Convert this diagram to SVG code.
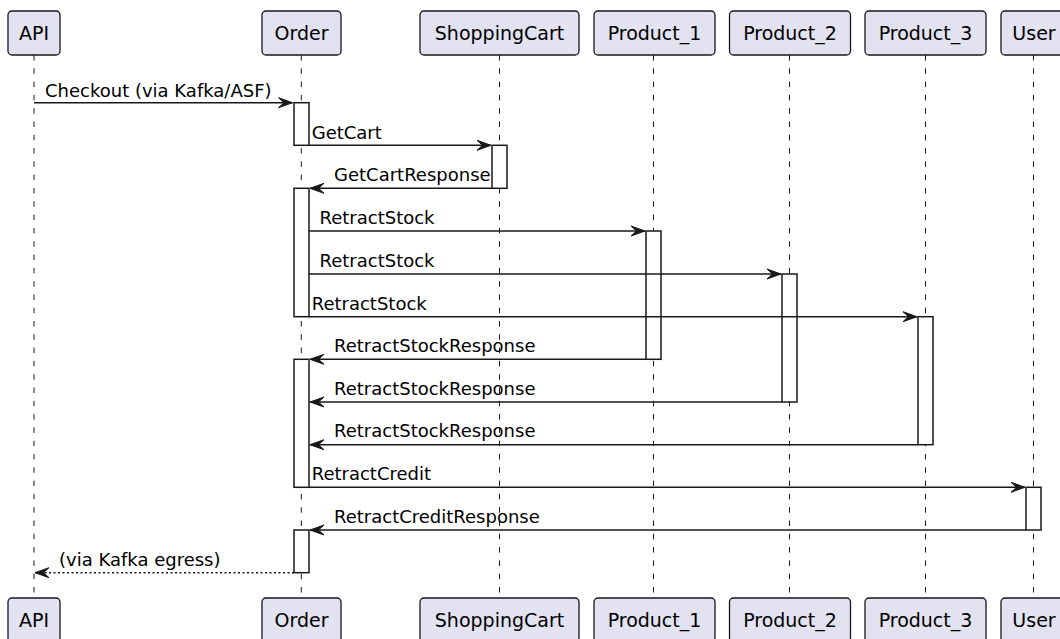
<svg xmlns="http://www.w3.org/2000/svg" width="1060" height="639" viewBox="0 0 1060 639">
<style>
.box{fill:#E2E2F0;stroke:#181818;stroke-width:1.3}
.pt{font-family:"DejaVu Sans",sans-serif;font-size:19px;fill:#000;text-anchor:middle}
.life{stroke:#181818;stroke-width:1;stroke-dasharray:5.5,7.8;fill:none}
.act{fill:#FFFFFF;stroke:#181818;stroke-width:1.5}
.msg{stroke:#181818;stroke-width:1.5;fill:none;marker-end:url(#ah)}
.ret{stroke:#181818;stroke-width:1.5;fill:none;stroke-dasharray:2,2.5;marker-end:url(#ah)}
.mt{font-family:"DejaVu Sans",sans-serif;font-size:18px;fill:#000}
</style>
<defs>
<marker id="ah" markerWidth="18" markerHeight="14" refX="15" refY="7" orient="auto" markerUnits="userSpaceOnUse">
<path d="M1,2 L15,7 L1,12 L6.5,7 Z" fill="#181818" stroke="#181818" stroke-width="1" stroke-linejoin="miter"/>
</marker>
</defs>
<rect width="1060" height="639" fill="#FFFFFF"/>
<g id="lifelines">
<line class="life" x1="34" y1="55" x2="34" y2="598"/>
<line class="life" x1="301.3" y1="55" x2="301.3" y2="598"/>
<line class="life" x1="499.5" y1="55" x2="499.5" y2="598"/>
<line class="life" x1="653.5" y1="55" x2="653.5" y2="598"/>
<line class="life" x1="789.5" y1="55" x2="789.5" y2="598"/>
<line class="life" x1="925.5" y1="55" x2="925.5" y2="598"/>
<line class="life" x1="1033.5" y1="55" x2="1033.5" y2="598"/>
</g>
<g id="API">
<rect class="box" x="8" y="11" width="52" height="44" rx="4"/>
<text class="pt" x="34" y="40">API</text>
<rect class="box" x="8" y="598" width="52" height="44" rx="4"/>
<text class="pt" x="34" y="627">API</text>
</g>
<g id="Order">
<rect class="box" x="262" y="11" width="79" height="44" rx="4"/>
<text class="pt" x="301.5" y="40">Order</text>
<rect class="box" x="262" y="598" width="79" height="44" rx="4"/>
<text class="pt" x="301.5" y="627">Order</text>
<rect class="act" x="294" y="102.7" width="15" height="42.6"/>
<rect class="act" x="294" y="188.3" width="15" height="128.4"/>
<rect class="act" x="294" y="359.3" width="15" height="128"/>
<rect class="act" x="294" y="530" width="15" height="42.7"/>
</g>
<g id="ShoppingCart">
<rect class="box" x="420" y="11" width="159" height="44" rx="4"/>
<text class="pt" x="499.5" y="40">ShoppingCart</text>
<rect class="box" x="420" y="598" width="159" height="44" rx="4"/>
<text class="pt" x="499.5" y="627">ShoppingCart</text>
<rect class="act" x="492" y="145.3" width="15" height="43"/>
</g>
<g id="Product_1">
<rect class="box" x="594" y="11" width="121" height="44" rx="4"/>
<text class="pt" x="654.5" y="40">Product_1</text>
<rect class="box" x="594" y="598" width="121" height="44" rx="4"/>
<text class="pt" x="654.5" y="627">Product_1</text>
<rect class="act" x="646" y="231" width="15" height="128.3"/>
</g>
<g id="Product_2">
<rect class="box" x="729.5" y="11" width="121" height="44" rx="4"/>
<text class="pt" x="790" y="40">Product_2</text>
<rect class="box" x="729.5" y="598" width="121" height="44" rx="4"/>
<text class="pt" x="790" y="627">Product_2</text>
<rect class="act" x="782" y="274" width="15" height="128"/>
</g>
<g id="Product_3">
<rect class="box" x="865" y="11" width="121" height="44" rx="4"/>
<text class="pt" x="925.5" y="40">Product_3</text>
<rect class="box" x="865" y="598" width="121" height="44" rx="4"/>
<text class="pt" x="925.5" y="627">Product_3</text>
<rect class="act" x="918" y="316.7" width="15" height="128"/>
</g>
<g id="User">
<rect class="box" x="1001" y="11" width="66" height="44" rx="4"/>
<text class="pt" x="1034" y="40">User</text>
<rect class="box" x="1001" y="598" width="66" height="44" rx="4"/>
<text class="pt" x="1034" y="627">User</text>
<rect class="act" x="1026" y="487.3" width="15" height="42.7"/>
</g>
<g id="connectors">
<line class="msg" x1="34" y1="102.7" x2="292.5" y2="102.7"/>
<text class="mt" x="45" y="96.5">Checkout (via Kafka/ASF)</text>
<line class="msg" x1="309" y1="145.3" x2="491" y2="145.3"/>
<text class="mt" x="311.7" y="138.5">GetCart</text>
<line class="msg" x1="492" y1="188.3" x2="310" y2="188.3"/>
<text class="mt" x="334" y="181">GetCartResponse</text>
<line class="msg" x1="309" y1="231" x2="645" y2="231"/>
<text class="mt" x="319.5" y="224">RetractStock</text>
<line class="msg" x1="309" y1="274" x2="781" y2="274"/>
<text class="mt" x="319.5" y="266.5">RetractStock</text>
<line class="msg" x1="309" y1="316.7" x2="917" y2="316.7"/>
<text class="mt" x="311.7" y="309.5">RetractStock</text>
<line class="msg" x1="646" y1="359.3" x2="310" y2="359.3"/>
<text class="mt" x="334" y="352">RetractStockResponse</text>
<line class="msg" x1="782" y1="402" x2="310" y2="402"/>
<text class="mt" x="334" y="394.7">RetractStockResponse</text>
<line class="msg" x1="918" y1="444.7" x2="310" y2="444.7"/>
<text class="mt" x="334" y="437.4">RetractStockResponse</text>
<line class="msg" x1="309" y1="487.3" x2="1025" y2="487.3"/>
<text class="mt" x="311.7" y="480">RetractCredit</text>
<line class="msg" x1="1026" y1="530" x2="310" y2="530"/>
<text class="mt" x="334" y="522.7">RetractCreditResponse</text>
<line class="ret" x1="294" y1="572.7" x2="35" y2="572.7"/>
<text class="mt" x="59" y="566">(via Kafka egress)</text>
</g>
</svg>
